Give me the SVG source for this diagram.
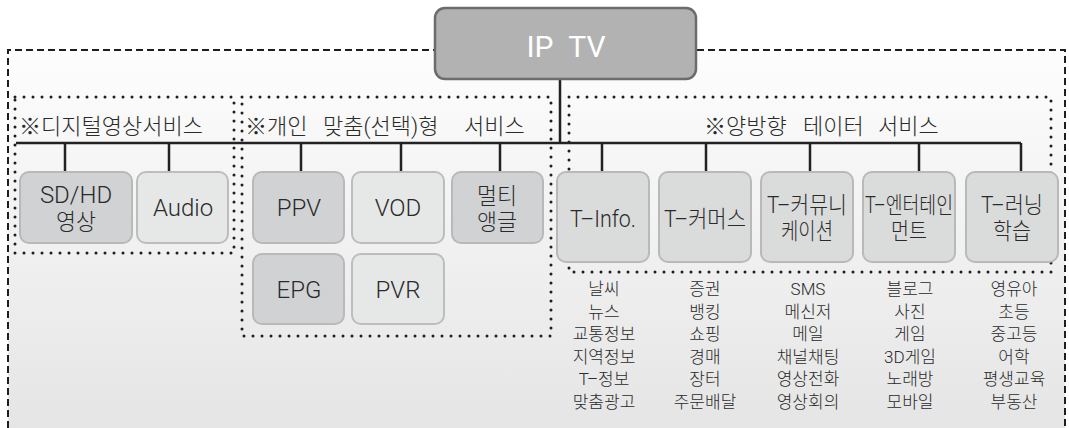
<svg xmlns="http://www.w3.org/2000/svg" width="1069" height="428" viewBox="0 0 1069 428">
<defs>
<linearGradient id="bg" x1="0" y1="0" x2="0" y2="1">
<stop offset="0" stop-color="#fdfdfd"/>
<stop offset="1" stop-color="#e5e5e5"/>
</linearGradient>
</defs>
<style>
text{font-family:Roboto,"Noto Sans CJK KR",sans-serif;font-weight:300;fill:#2a2a2a}
.grp{fill:none;stroke:#1e1e1e;stroke-width:3;stroke-dasharray:0 9;stroke-linecap:round}
.outer{fill:none;stroke:#1e1e1e;stroke-width:2;stroke-dasharray:7 4}
.con{fill:none;stroke:#222;stroke-width:2.5}
.dk{fill:#d1d2d4;stroke:#b9b9b9;stroke-width:2}
.lt{fill:#e6e7e7;stroke:#bdbdbd;stroke-width:2}
.md{fill:#dadbdb;stroke:#b9b9b9;stroke-width:2}
.bt{font-size:24px;text-anchor:middle}
.bk{font-size:23px;text-anchor:middle}
.gt{font-size:22px}
.ls{font-size:17px;text-anchor:middle}
</style>
<rect x="8" y="50" width="1057" height="378" fill="url(#bg)"/>
<path class="outer" d="M8,428 V50 H1065 V428"/>
<g id="groups">
<rect class="grp" x="15" y="97" width="219" height="156"/>
<rect class="grp" x="242" y="97" width="309" height="239"/>
<rect class="grp" x="569" y="97" width="482" height="175"/>
</g>
<g id="group-titles">
<text class="gt" x="19" y="134">※디지털영상서비스</text>
<text class="gt" y="134"><tspan x="245">※개인</tspan><tspan x="323">맞춤(선택)형</tspan><tspan x="464">서비스</tspan></text>
<text class="gt" y="134"><tspan x="704">※양방향</tspan><tspan x="803">테이터</tspan><tspan x="878">서비스</tspan></text>
</g>
<g id="connectors">
<path class="con" d="M560,79 V143 M16,143 H1021"/>
<path class="con" d="M65,143 V172 M169,143 V172 M301,143 V172 M401,143 V172 M500,143 V172 M602,143 V172 M706,143 V172 M810,143 V172 M919,143 V172 M1021,143 V172"/>
</g>
<g id="iptv">
<rect x="435" y="8" width="261" height="71" rx="10" fill="#b2b2b2" stroke="#6c6c6c" stroke-width="2.5"/>
<text x="566" y="57" style="font-size:30px;text-anchor:middle;fill:#fff;font-weight:400;word-spacing:8px">IP TV</text>
</g>
<g id="sdhd">
<rect class="dk" x="20" y="172" width="112" height="71" rx="9"/>
<text class="bt" x="76" y="203">SD/HD</text>
<text class="bk" x="76" y="230" textLength="40" lengthAdjust="spacingAndGlyphs">영상</text>
</g>
<g id="audio">
<rect class="lt" x="137" y="172" width="91" height="71" rx="9"/>
<text class="bt" x="183" y="216">Audio</text>
</g>
<g id="ppv">
<rect class="dk" x="253" y="172" width="91" height="71" rx="9"/>
<text class="bt" x="299" y="216">PPV</text>
</g>
<g id="vod">
<rect class="lt" x="352" y="172" width="92" height="71" rx="9"/>
<text class="bt" x="398" y="216">VOD</text>
</g>
<g id="multiangle">
<rect class="dk" x="452" y="172" width="91" height="71" rx="9"/>
<text class="bk" x="497" y="204" textLength="40" lengthAdjust="spacingAndGlyphs">멀티</text>
<text class="bk" x="497" y="230" textLength="40" lengthAdjust="spacingAndGlyphs">앵글</text>
</g>
<g id="epg">
<rect class="dk" x="253" y="254" width="91" height="70" rx="9"/>
<text class="bt" x="299" y="298">EPG</text>
</g>
<g id="pvr">
<rect class="lt" x="352" y="254" width="92" height="70" rx="9"/>
<text class="bt" x="398" y="298">PVR</text>
</g>
<g id="tinfo">
<rect class="md" x="557" y="172" width="92" height="90" rx="9"/>
<text class="bt" x="603" y="227" textLength="66" lengthAdjust="spacingAndGlyphs">T–Info.</text>
</g>
<g id="tcommerce">
<rect class="md" x="659" y="172" width="92" height="90" rx="9"/>
<text class="bk" x="705" y="227" textLength="82" lengthAdjust="spacingAndGlyphs">T–커머스</text>
</g>
<g id="tcommunication">
<rect class="md" x="761" y="172" width="92" height="90" rx="9"/>
<text class="bk" x="807" y="213" textLength="80" lengthAdjust="spacingAndGlyphs">T–커뮤니</text>
<text class="bk" x="807" y="239" textLength="52" lengthAdjust="spacingAndGlyphs">케이션</text>
</g>
<g id="tentertainment">
<rect class="md" x="863" y="172" width="92" height="90" rx="9"/>
<text class="bk" x="909" y="213" textLength="88" lengthAdjust="spacingAndGlyphs">T–엔터테인</text>
<text class="bk" x="909" y="239" textLength="36" lengthAdjust="spacingAndGlyphs">먼트</text>
</g>
<g id="tlearning">
<rect class="md" x="966" y="172" width="92" height="90" rx="9"/>
<text class="bk" x="1012" y="213" textLength="62" lengthAdjust="spacingAndGlyphs">T–러닝</text>
<text class="bk" x="1012" y="239" textLength="38" lengthAdjust="spacingAndGlyphs">학습</text>
</g>
<g id="lists">
<text class="ls" x="604" y="295"><tspan x="604">날씨</tspan><tspan x="604" dy="22.6">뉴스</tspan><tspan x="604" dy="22.6">교통정보</tspan><tspan x="604" dy="22.6">지역정보</tspan><tspan x="604" dy="22.6">T–정보</tspan><tspan x="604" dy="22.6">맞춤광고</tspan></text>
<text class="ls" x="705" y="295"><tspan x="705">증권</tspan><tspan x="705" dy="22.6">뱅킹</tspan><tspan x="705" dy="22.6">쇼핑</tspan><tspan x="705" dy="22.6">경매</tspan><tspan x="705" dy="22.6">장터</tspan><tspan x="705" dy="22.6">주문배달</tspan></text>
<text class="ls" x="808" y="295"><tspan x="808">SMS</tspan><tspan x="808" dy="22.6">메신저</tspan><tspan x="808" dy="22.6">메일</tspan><tspan x="808" dy="22.6">채널채팅</tspan><tspan x="808" dy="22.6">영상전화</tspan><tspan x="808" dy="22.6">영상회의</tspan></text>
<text class="ls" x="910" y="295"><tspan x="910">블로그</tspan><tspan x="910" dy="22.6">사진</tspan><tspan x="910" dy="22.6">게임</tspan><tspan x="910" dy="22.6">3D게임</tspan><tspan x="910" dy="22.6">노래방</tspan><tspan x="910" dy="22.6">모바일</tspan></text>
<text class="ls" x="1014" y="295"><tspan x="1014">영유아</tspan><tspan x="1014" dy="22.6">초등</tspan><tspan x="1014" dy="22.6">중고등</tspan><tspan x="1014" dy="22.6">어학</tspan><tspan x="1014" dy="22.6">평생교육</tspan><tspan x="1014" dy="22.6">부동산</tspan></text>
</g>
</svg>
